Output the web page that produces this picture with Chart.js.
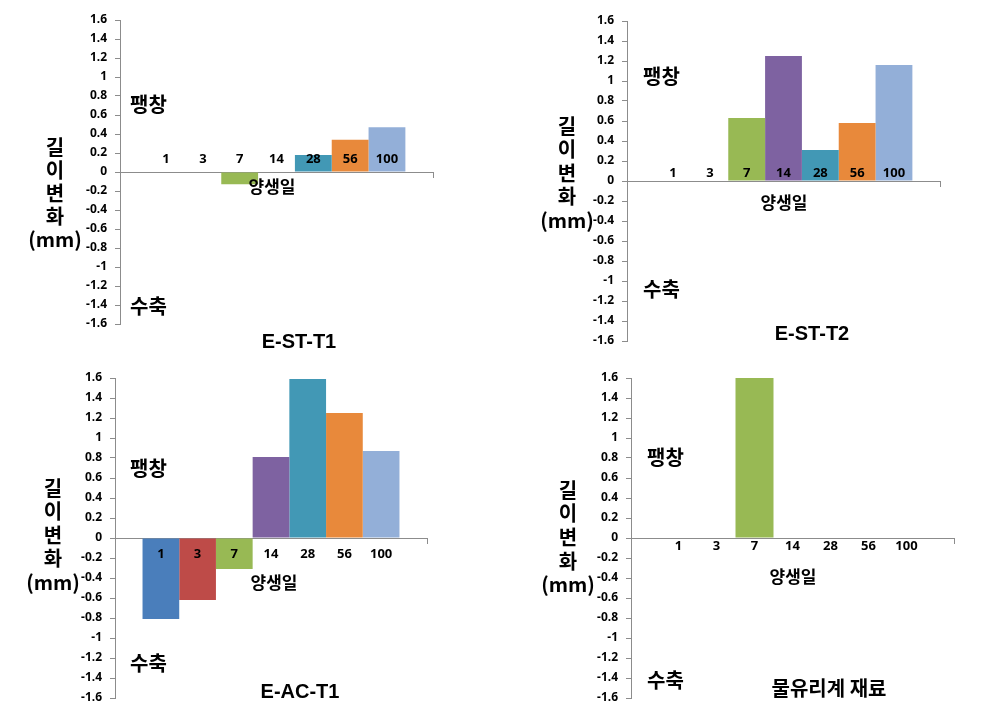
<!DOCTYPE html>
<html>
<head>
<meta charset="utf-8">
<script src="https://cdn.jsdelivr.net/npm/chart.js@4.4.1/dist/chart.umd.min.js"></script>
<style>
  html, body { margin: 0; padding: 0; background: #fff; }
  #page { position: relative; width: 998px; height: 714px; overflow: hidden; }
  canvas { position: absolute; }
</style>
</head>
<body>
<div id="page">
  <canvas id="c1" width="499" height="357" style="left:0;top:0"></canvas>
  <canvas id="c2" width="499" height="357" style="left:499px;top:0"></canvas>
  <canvas id="c3" width="499" height="357" style="left:0;top:357px"></canvas>
  <canvas id="c4" width="499" height="357" style="left:499px;top:357px"></canvas>
</div>
<script>
// 양생일 (curing days) = series names
const days = ['1', '3', '7', '14', '28', '56', '100'];

// 길이변화 (mm)
const estT1 = [0, 0, -0.13, 0, 0.18, 0.34, 0.47];
const estT2 = [0, 0, 0.63, 1.25, 0.31, 0.58, 1.16];
const eacT1 = [-0.81, -0.62, -0.31, 0.81, 1.59, 1.25, 0.87];
const glass = [0, 0, 1.6, 0, 0, 0, 0];

const titles = ['E-ST-T1', 'E-ST-T2', 'E-AC-T1', '물유리계 재료'];
const yMin = -1.6, yMax = 1.6, yStep = 0.2;

const barColors = ['#4a7ebb', '#be4b48', '#98b954', '#7e62a1', '#4298b5', '#e8893b', '#93afd8'];
const axisGray = '#8c8c8c';
const numFont = '"Noto Sans", "Liberation Sans", sans-serif';
const titleFont = '"Liberation Sans", Arial, sans-serif';
const krFont = '"Noto Sans CJK KR", "Noto Sans", sans-serif';

// per panel layout (canvas-relative pixels)
const panels = [
  { id: 'c1', data: estT1, axisX: 120, top: 20, bottom: 33, right: 66, labelOff: -13,
    up: [130, 104], down: [130, 306], xName: [272, 187], title: [299, 342], yt: [55, 147, 23] },
  { id: 'c2', data: estT2, axisX: 128, top: 21, bottom: 16, right: 58, labelOff: -8,
    up: [144, 76], down: [144, 289], xName: [285, 203], title: [313, 334], yt: [68, 126, 23.5] },
  { id: 'c3', data: eacT1, axisX: 115, top: 21, bottom: 16, right: 72, labelOff: 16,
    up: [130, 111], down: [130, 306], xName: [274, 226], title: [300, 335], yt: [53, 131, 23.5] },
  { id: 'c4', data: glass, axisX: 132, top: 21, bottom: 16, right: 44, labelOff: 8.5,
    up: [148, 100], down: [148, 323], xName: [294, 220], title: [330, 331], yt: [69, 133, 23.7] }
];

const panelText = {
  id: 'panelText',
  afterDraw(chart, args, o) {
    const ctx = chart.ctx;
    const y0 = chart.scales.y.getPixelForValue(0);
    ctx.save();
    ctx.fillStyle = '#000';
    ctx.textBaseline = 'middle';

    // series names at the zero line
    ctx.textAlign = 'center';
    ctx.font = 'bold 13px ' + numFont;
    chart.data.datasets.forEach((ds, i) => {
      const bar = chart.getDatasetMeta(i).data[0];
      ctx.fillText(ds.label, bar.x, y0 + o.p.labelOff);
    });

    ctx.textAlign = 'left';
    ctx.font = 'bold 20px ' + krFont;
    ctx.fillText('팽창', o.p.up[0], o.p.up[1]);
    ctx.fillText('수축', o.p.down[0], o.p.down[1]);

    ctx.textAlign = 'center';
    ctx.font = 'bold 17px ' + krFont;
    ctx.fillText('양생일', o.p.xName[0], o.p.xName[1]);

    ctx.font = 'bold 20px ' + (o.title.match(/[가-힣]/) ? krFont : titleFont);
    ctx.fillText(o.title, o.p.title[0], o.p.title[1]);

    // stacked y title
    const lines = ['길', '이', '변', '화', '(mm)'];
    ctx.font = 'bold 20px ' + krFont;
    lines.forEach((t, i) => {
      ctx.fillText(t, o.p.yt[0], o.p.yt[1] + i * o.p.yt[2]);
    });
    ctx.restore();
  }
};

panels.forEach((p, k) => {
  new Chart(document.getElementById(p.id), {
    type: 'bar',
    data: {
      labels: [''],
      datasets: days.map((d, i) => ({
        label: d,
        data: [p.data[i]],
        backgroundColor: barColors[i],
        borderWidth: 0,
        categoryPercentage: 7 / 8.5,
        barPercentage: 1
      }))
    },
    options: {
      responsive: false,
      animation: false,
      layout: { padding: { left: 0, top: p.top, right: p.right, bottom: p.bottom } },
      plugins: {
        legend: { display: false },
        tooltip: { enabled: false },
        panelText: { p: p, title: titles[k] }
      },
      scales: {
        x: {
          position: { y: 0 },
          ticks: { display: false },
          grid: { drawOnChartArea: false, tickLength: 5, color: axisGray, offset: true },
          border: { color: axisGray, width: 1 }
        },
        y: {
          min: yMin,
          max: yMax,
          ticks: {
            stepSize: yStep,
            color: '#000',
            padding: 8,
            font: { family: numFont, size: 12, weight: 'bold' },
            callback: v => String(+v.toFixed(1))
          },
          grid: { drawOnChartArea: false, tickLength: 5, color: axisGray },
          border: { color: axisGray, width: 1 },
          afterFit: s => { s.width = p.axisX; }
        }
      }
    },
    plugins: [panelText]
  });
});
</script>
</body>
</html>
